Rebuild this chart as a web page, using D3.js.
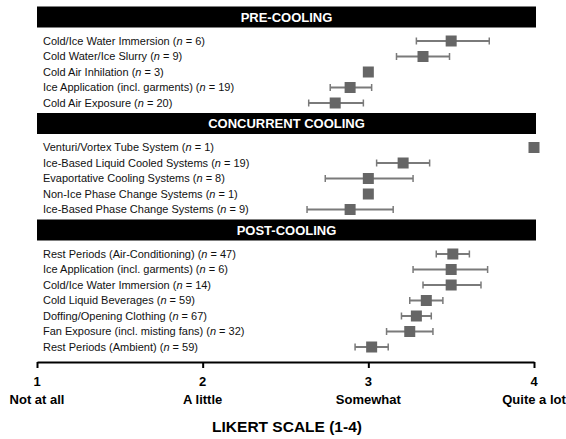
<!DOCTYPE html>
<html>
<head>
<meta charset="utf-8">
<script src="https://cdn.jsdelivr.net/npm/d3@7"></script>
<style>
  html, body { margin: 0; padding: 0; background: #fff; }
  svg { display: block; font-family: "Liberation Sans", Arial, sans-serif; }
</style>
</head>
<body>
<svg id="chart" width="566" height="439"></svg>
<script>
// ---- Data ----
const sectionTitles = ["PRE-COOLING", "CONCURRENT COOLING", "POST-COOLING"];

const preNames = ["Cold/Ice Water Immersion", "Cold Water/Ice Slurry", "Cold Air Inhilation", "Ice Application (incl. garments)", "Cold Air Exposure"];
const preN     = [6, 9, 3, 19, 20];
const preMean  = [3.50, 3.33, 3.00, 2.89, 2.80];
const preLow   = [3.29, 3.17, null, 2.77, 2.64];
const preHigh  = [3.73, 3.49, null, 3.02, 2.97];

const concNames = ["Venturi/Vortex Tube System", "Ice-Based Liquid Cooled Systems", "Evaportative Cooling Systems", "Non-Ice Phase Change Systems", "Ice-Based Phase Change Systems"];
const concN     = [1, 19, 8, 1, 9];
const concMean  = [4.00, 3.21, 3.00, 3.00, 2.89];
const concLow   = [null, 3.05, 2.74, null, 2.63];
const concHigh  = [null, 3.37, 3.27, null, 3.15];

const postNames = ["Rest Periods (Air-Conditioning)", "Ice Application (incl. garments)", "Cold/Ice Water Immersion", "Cold Liquid Beverages", "Doffing/Opening Clothing", "Fan Exposure (incl. misting fans)", "Rest Periods (Ambient)"];
const postN     = [47, 6, 14, 59, 67, 32, 59];
const postMean  = [3.51, 3.50, 3.50, 3.35, 3.29, 3.25, 3.02];
const postLow   = [3.41, 3.27, 3.33, 3.25, 3.20, 3.11, 2.92];
const postHigh  = [3.61, 3.72, 3.68, 3.45, 3.38, 3.39, 3.12];

const tickValues = [1, 2, 3, 4];
const tickNames  = ["Not at all", "A little", "Somewhat", "Quite a lot"];
const axisTitle  = "LIKERT SCALE (1-4)";

// ---- Build sections ----
function build(names, ns, mean, low, high) {
  return names.map((name, i) => ({ name, n: ns[i], mean: mean[i], low: low[i], high: high[i] }));
}
const sections = [
  { title: sectionTitles[0], rows: build(preNames, preN, preMean, preLow, preHigh) },
  { title: sectionTitles[1], rows: build(concNames, concN, concMean, concLow, concHigh) },
  { title: sectionTitles[2], rows: build(postNames, postN, postMean, postLow, postHigh) }
];

// ---- Layout ----
const svg = d3.select("#chart");
const x = d3.scaleLinear().domain([1, 4]).range([37, 534]);
const headerLeft = 37, headerRight = 536;
const headerH = 21, firstRowGap = 13.5, rowStep = 15.5, afterGap = 10;
const markerSize = 11, capH = 7;
const markerColor = "#666666", errColor = "#7a7a7a";

let cursor = 6.5;
sections.forEach(sec => {
  sec.top = cursor;
  const yStart = cursor + headerH + firstRowGap;
  sec.y = d3.scaleLinear().domain([0, 1]).range([yStart, yStart + rowStep]);
  cursor = yStart + (sec.rows.length - 1) * rowStep + afterGap;
});

sections.forEach(sec => {
  const g = svg.append("g");
  g.append("rect")
    .attr("x", headerLeft).attr("y", sec.top)
    .attr("width", headerRight - headerLeft).attr("height", headerH)
    .attr("fill", "#000");
  g.append("text")
    .attr("x", (headerLeft + headerRight) / 2)
    .attr("y", sec.top + headerH / 2)
    .attr("dy", "0.36em")
    .attr("text-anchor", "middle")
    .attr("fill", "#fff")
    .attr("font-weight", "bold")
    .attr("font-size", 13)
    .text(sec.title);

  const rows = g.selectAll("g.row").data(sec.rows).join("g").attr("class", "row")
    .attr("transform", (d, i) => `translate(0,${sec.y(i)})`);

  const lbl = rows.append("text")
    .attr("x", 43).attr("y", 0).attr("dy", "0.35em")
    .attr("font-size", 11).attr("fill", "#111");
  lbl.append("tspan").text(d => d.name + " (");
  lbl.append("tspan").attr("font-style", "italic").text("n");
  lbl.append("tspan").text(d => " = " + d.n + ")");

  const eb = rows.filter(d => d.low != null);
  eb.append("line")
    .attr("x1", d => x(d.low)).attr("x2", d => x(d.high))
    .attr("y1", 0).attr("y2", 0)
    .attr("stroke", errColor).attr("stroke-width", 2);
  eb.append("line")
    .attr("x1", d => x(d.low)).attr("x2", d => x(d.low))
    .attr("y1", -capH / 2).attr("y2", capH / 2)
    .attr("stroke", errColor).attr("stroke-width", 1.5);
  eb.append("line")
    .attr("x1", d => x(d.high)).attr("x2", d => x(d.high))
    .attr("y1", -capH / 2).attr("y2", capH / 2)
    .attr("stroke", errColor).attr("stroke-width", 1.5);

  rows.append("rect")
    .attr("x", d => x(d.mean) - markerSize / 2)
    .attr("y", -markerSize / 2)
    .attr("width", markerSize).attr("height", markerSize)
    .attr("fill", markerColor);
});

// ---- Axis ----
const axisY = 362;
const axis = d3.axisBottom(x).tickValues(tickValues).tickSize(6).tickSizeOuter(0).tickFormat("");
const ag = svg.append("g").attr("transform", `translate(0,${axisY})`).call(axis);
ag.select(".domain").attr("stroke", "#000").attr("stroke-width", 2);
ag.selectAll(".tick line").attr("stroke", "#000").attr("stroke-width", 2);

const tl = svg.append("g").selectAll("g").data(tickValues).join("g")
  .attr("transform", d => `translate(${x(d)},0)`);
tl.append("text")
  .attr("y", 381).attr("dy", "0.35em")
  .attr("text-anchor", "middle").attr("font-weight", "bold").attr("font-size", 13)
  .text(d => d);
tl.append("text")
  .attr("y", 399).attr("dy", "0.35em")
  .attr("text-anchor", "middle").attr("font-weight", "bold").attr("font-size", 13)
  .text((d, i) => tickNames[i]);

svg.append("text")
  .attr("x", 287).attr("y", 427).attr("dy", "0.35em")
  .attr("text-anchor", "middle").attr("font-weight", "bold").attr("font-size", 15.5)
  .text(axisTitle);
</script>
</body>
</html>
